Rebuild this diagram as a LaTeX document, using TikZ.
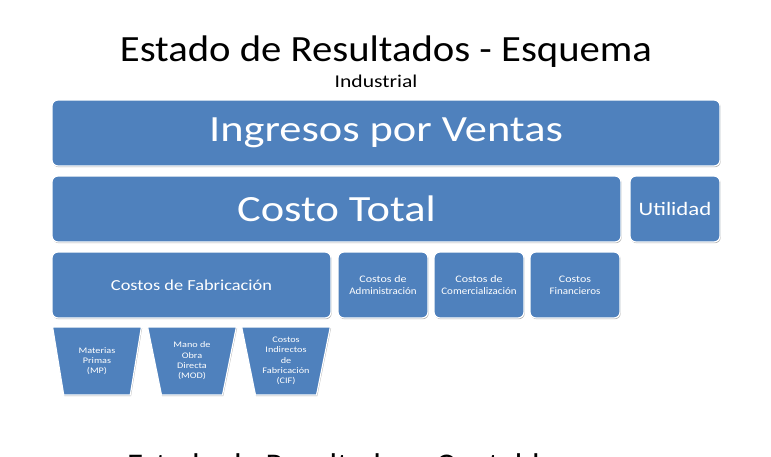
\documentclass[tikz,border=0pt]{standalone}
\usepackage{fontspec}
\setmainfont{Carlito}[FakeStretch=1.1]
\newfontfamily\anchafont{Carlito}[FakeStretch=1.2]
\usetikzlibrary{shapes.geometric,shadows}

\definecolor{bloqueazul}{HTML}{4F81BD}

\tikzset{
  bloque/.style={draw=white, line width=1.2pt, fill=bloqueazul, rounded corners=6pt,
    text=white, align=center, inner sep=0pt,
    drop shadow={shadow xshift=0.7pt, shadow yshift=-1.2pt, opacity=0.3, fill=black}},
  embudo/.style={trapezium, shape border rotate=180, trapezium stretches=true,
    trapezium angle=77.5, minimum width=89pt, minimum height=68pt,
    draw=white, line width=1.2pt, fill=bloqueazul, text=white, align=center, inner sep=0pt,
    drop shadow={shadow xshift=0.7pt, shadow yshift=-1.2pt, opacity=0.3, fill=black},
    font=\anchafont\fontsize{8.5}{10.3}\selectfont}
}

\begin{document}
\begin{tikzpicture}[x=1pt,y=-1pt]
    \clip (0,0) rectangle (771,456);
    \fill[white] (0,0) rectangle (771,456);
    % titulos
    \node[anchor=base] (titulo) at (386,61) {\fontsize{37}{40}\selectfont Estado de Resultados - Esquema};
    \node[anchor=base] (subtitulo) at (376,87) {\anchafont\fontsize{18}{20}\selectfont Industrial};
    % primer y segundo nivel
    \node[bloque, minimum width=668pt, minimum height=66pt] (ingresos) at (386,133)
      {\anchafont\fontsize{37}{40}\selectfont Ingresos por Ventas};
    \node[bloque, minimum width=569pt, minimum height=66pt] (costo) at (336.5,209)
      {\anchafont\fontsize{37}{40}\selectfont Costo Total};
    \node[bloque, minimum width=90pt, minimum height=66pt] (utilidad) at (675,209)
      {\anchafont\fontsize{19}{22}\selectfont Utilidad};
    % tercer nivel
    \node[bloque, minimum width=279pt, minimum height=66pt] (fabricacion) at (191.5,285)
      {\anchafont\fontsize{15.3}{18}\selectfont Costos de Fabricación};
    \node[bloque, minimum width=90pt, minimum height=66pt] (administracion) at (383,285)
      {\anchafont\fontsize{10}{11.5}\selectfont Costos de\\Administración};
    \node[bloque, minimum width=90pt, minimum height=66pt] (comercializacion) at (479,285)
      {\anchafont\fontsize{10}{11.5}\selectfont Costos de\\Comercialización};
    \node[bloque, minimum width=90pt, minimum height=66pt] (financieros) at (575,285)
      {\anchafont\fontsize{10}{11.5}\selectfont Costos\\Financieros};
    % costos de fabricacion
    \node[embudo] (mp) at (97,361) {Materias\\Primas\\(MP)};
    \node[embudo] (mod) at (192,361) {Mano de\\Obra\\Directa\\(MOD)};
    \node[embudo] (cif) at (286,361) {Costos\\Indirectos\\de\\Fabricación\\(CIF)};
    % siguiente titulo (cortado)
    \node[anchor=base west, inner xsep=0pt] (contable) at (127,474) {\fontsize{30}{33}\selectfont Estado de Resultados - Contable};
\end{tikzpicture}
\end{document}
